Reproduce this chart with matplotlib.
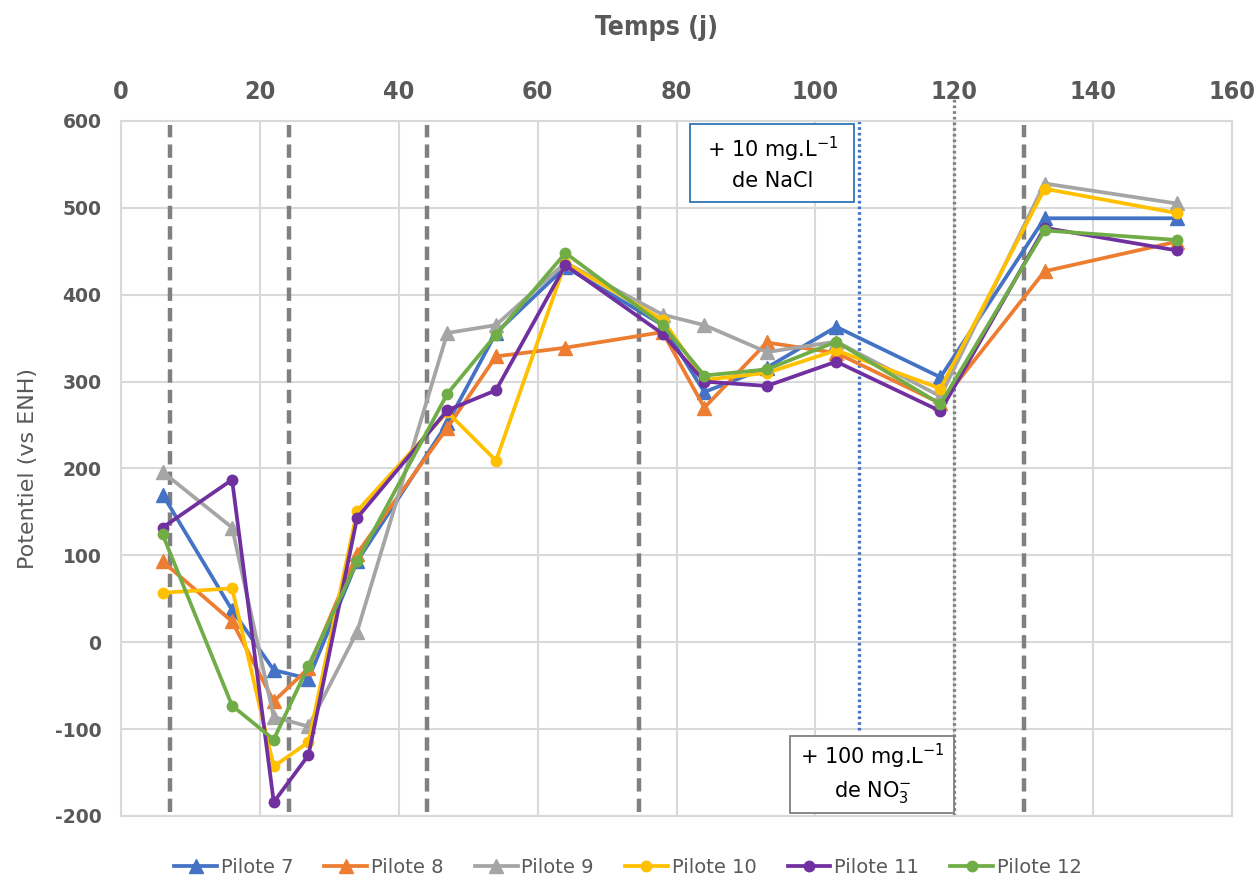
import matplotlib.pyplot as plt
from matplotlib.lines import Line2D
from matplotlib.patches import Rectangle

plt.rcParams['axes.unicode_minus'] = False

# Data
days = [6, 16, 22, 27, 34, 47, 54, 64, 78, 84, 93, 103, 118, 133, 152]
pilote7 = [170, 37, -32, -42, 93, 252, 356, 432, 365, 288, 316, 363, 305, 488, 488]
pilote8 = [93, 24, -68, -30, 102, 247, 329, 339, 357, 270, 345, 333, 275, 427, 461]
pilote9 = [196, 132, -86, -97, 12, 356, 365, 437, 377, 365, 334, 346, 283, 528, 505]
pilote10 = [57, 62, -143, -115, 151, 265, 209, 437, 371, 302, 310, 336, 292, 522, 494]
pilote11 = [132, 187, -184, -130, 143, 267, 290, 434, 355, 300, 295, 323, 266, 477, 451]
pilote12 = [124, -73, -112, -27, 93, 286, 354, 448, 365, 307, 314, 346, 274, 474, 463]

series = [pilote7, pilote8, pilote9, pilote10, pilote11, pilote12]
labels = ['Pilote 7', 'Pilote 8', 'Pilote 9', 'Pilote 10', 'Pilote 11', 'Pilote 12']
colors = ['#4472C4', '#ED7D31', '#A5A5A5', '#FFC000', '#7030A0', '#70AD47']
markers = ['^', '^', '^', 'o', 'o', 'o']

dashed_days = [7, 24.2, 44, 74.6, 130]
nacl_day = 106.3
no3_day = 120

txt = '#595959'
grid_c = '#D9D9D9'

fig = plt.figure(figsize=(12.56, 8.81), dpi=100)
ax = fig.add_axes([0.0963, 0.0738, 0.8847, 0.7889])

ax.set_xlim(0, 160)
ax.set_ylim(-200, 600)
ax.set_xticks(range(0, 161, 20))
ax.set_yticks(range(-200, 601, 100))
ax.xaxis.tick_top()
ax.grid(True, color=grid_c, lw=1.5)
ax.set_axisbelow(True)
for s in ax.spines.values():
    s.set_color(grid_c)
    s.set_linewidth(1.5)
ax.tick_params(axis='x', length=0, pad=12)
ax.tick_params(axis='y', length=0, pad=14)
for lab in ax.get_xticklabels():
    lab.set_fontsize(18)
    lab.set_fontweight('bold')
    lab.set_color(txt)
    lab.set_fontstretch('condensed')
for lab in ax.get_yticklabels():
    lab.set_fontsize(13.5)
    lab.set_fontweight('bold')
    lab.set_color(txt)

# vertical event lines
for d in dashed_days:
    ax.plot([d, d], [-195, 595], color='#808080', lw=3.2, ls=(0, (3, 1.6)), zorder=1)
ax.plot([nacl_day, nacl_day], [-101, 600], color='#4472C4', lw=2.4, ls=(0, (0.8, 0.9)), zorder=1)
ax.plot([no3_day, no3_day], [-200, 628], color='#808080', lw=2.4, ls=(0, (0.8, 0.9)),
        zorder=1, clip_on=False)

for y, lab, c, m in zip(series, labels, colors, markers):
    ms = 10.5 if m == '^' else 7.5
    ax.plot(days, y, color=c, lw=2.7, marker=m, ms=ms, label=lab, zorder=3)

# annotation boxes
ax.add_patch(Rectangle((82, 507), 23.6, 90, fc='white', ec='#2E75B6', lw=1.3, zorder=5))
ax.text(93.8, 552, '+ 10 mg.L$\\mathregular{^{-1}}$\nde NaCl', ha='center', va='center',
        fontsize=15, color='black', linespacing=1.45, zorder=6)
ax.add_patch(Rectangle((96.3, -196), 23.7, 88.5, fc='white', ec='#7F7F7F', lw=1.3, zorder=5))
ax.text(108.2, -151, '+ 100 mg.L$\\mathregular{^{-1}}$\nde NO$\\mathregular{_3^{-}}$',
        ha='center', va='center', fontsize=15, color='black', linespacing=1.45, zorder=6)

fig.text(0.523, 0.968, 'Temps (j)', ha='center', va='center', fontsize=19,
         fontweight='bold', color=txt, fontstretch='condensed')
ax.set_ylabel('Potentiel (vs ENH)', fontsize=16, color=txt, labelpad=12)

handles = [Line2D([], [], color=c, lw=2.7, marker=m, ms=(10.5 if m == '^' else 7.5))
           for c, m in zip(colors, markers)]
leg = fig.legend(handles, labels, loc='center', bbox_to_anchor=(0.5, 0.015), ncol=6,
                 frameon=False, fontsize=14, handlelength=2.2, handletextpad=0.2,
                 columnspacing=1.6)
for t in leg.get_texts():
    t.set_color(txt)

fig.savefig('out.png', dpi=100)
